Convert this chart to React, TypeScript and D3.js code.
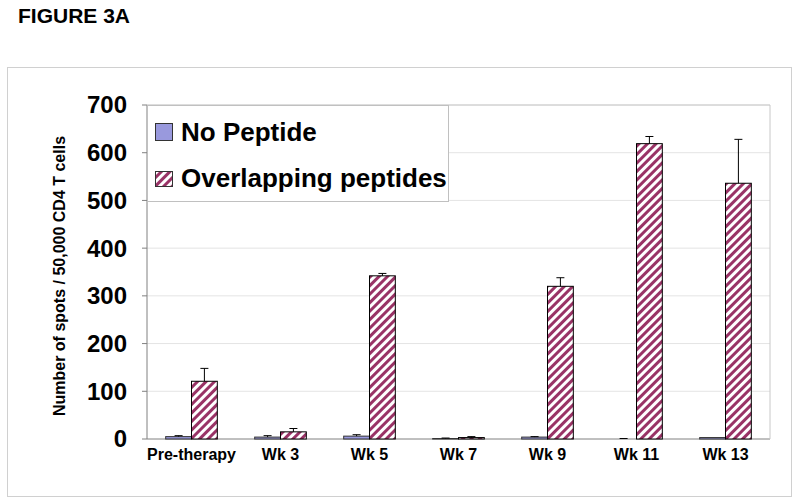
import React from "react";
import * as d3 from "d3";

const categories = ["Pre-therapy", "Wk 3", "Wk 5", "Wk 7", "Wk 9", "Wk 11", "Wk 13"];
const noPeptide = [5, 4, 6, 1, 4, 0, 3];
const noPeptideErr = [2, 3, 3, 1, 1, 1, 0];
const overlapping = [121, 15, 342, 3, 320, 619, 536];
const overlappingErr = [27, 7, 5, 2, 18, 15, 92];
const yTicks = [0, 100, 200, 300, 400, 500, 600, 700];
const seriesNames = ["No Peptide", "Overlapping peptides"];

export default function App() {
  const W = 800, H = 503;
  const left = 147, right = 770, top = 105, bottom = 439;
  const x = d3.scaleBand().domain(categories).range([left, right]).paddingInner(0.42).paddingOuter(0.21);
  const y = d3.scaleLinear().domain([0, 700]).range([bottom, top]);
  const bw = x.bandwidth() / 2;
  const font = "Arial, 'Liberation Sans', Helvetica, sans-serif";

  const errBar = (cx: number, v: number, e: number, key: string) => {
    if (e <= 0) return null;
    const y0 = y(v), y1 = y(v + e);
    return (
      <g key={key} stroke="#000" strokeWidth={1}>
        <line x1={cx} x2={cx} y1={y0} y2={y1} />
        <line x1={cx - 4} x2={cx + 4} y1={y1} y2={y1} />
      </g>
    );
  };

  return (
    <svg width={W} height={H} style={{ position: "absolute", left: 0, top: 0 }} fontFamily={font}>
      <defs>
        <pattern id="hatch" patternUnits="userSpaceOnUse" width="6" height="6" patternTransform="rotate(45)">
          <rect width="6" height="6" fill="#fff" />
          <rect x="0" y="0" width="3" height="6" fill="#993366" />
        </pattern>
      </defs>
      <rect width={W} height={H} fill="#fff" />
      <text x={18} y={23} fontSize={21} fontWeight="bold">FIGURE 3A</text>
      <rect x={7.5} y={67.5} width={784} height={429} fill="none" stroke="#d0d0d0" strokeWidth={1} />
      {yTicks.map((t) => (
        <g key={t}>
          {t > 0 && <line x1={left} x2={right} y1={y(t)} y2={y(t)} stroke="#e4e4e4" />}
          <line x1={left - 5} x2={left} y1={y(t)} y2={y(t)} stroke="#808080" />
          <text x={127} y={y(t)} dy="0.35em" textAnchor="end" fontSize={24} fontWeight="bold">{t}</text>
        </g>
      ))}
      <line x1={left} x2={left} y1={top} y2={bottom} stroke="#808080" />
      <line x1={left} x2={right} y1={bottom} y2={bottom} stroke="#808080" />
      <line x1={right} x2={right} y1={top} y2={bottom} stroke="#c8c8c8" />
      <line x1={left} x2={right} y1={top} y2={top} stroke="#c8c8c8" />
      <text transform={`translate(65,276) rotate(-90)`} textAnchor="middle" fontSize={16} fontWeight="bold">
        Number of spots / 50,000 CD4 T cells
      </text>
      {categories.map((c, i) => {
        const x0 = x(c)!;
        return (
          <g key={c}>
            <rect x={x0} y={y(noPeptide[i])} width={bw} height={Math.max(bottom - y(noPeptide[i]), 0)} fill="#9999dd" stroke="#333" strokeWidth={1} />
            <rect x={x0 + bw} y={y(overlapping[i])} width={bw} height={bottom - y(overlapping[i])} fill="url(#hatch)" stroke="#000" strokeWidth={1} />
            {errBar(x0 + bw / 2, noPeptide[i], noPeptideErr[i], "a" + i)}
            {errBar(x0 + bw * 1.5, overlapping[i], overlappingErr[i], "b" + i)}
            <text x={x0 + bw} y={460} textAnchor="middle" fontSize={16} fontWeight="bold">{c}</text>
          </g>
        );
      })}
      <rect x={147.5} y={105.5} width={301} height={96} fill="#fff" stroke="#c0c0c0" />
      <rect x={155.5} y={123.5} width={17} height={17} fill="#9999dd" stroke="#333" />
      <text x={181} y={141} fontSize={26} fontWeight="bold">{seriesNames[0]}</text>
      <rect x={155.5} y={171.5} width={17} height={15} fill="url(#hatch)" stroke="#333" />
      <text x={181} y={187} fontSize={26} fontWeight="bold">{seriesNames[1]}</text>
    </svg>
  );
}
